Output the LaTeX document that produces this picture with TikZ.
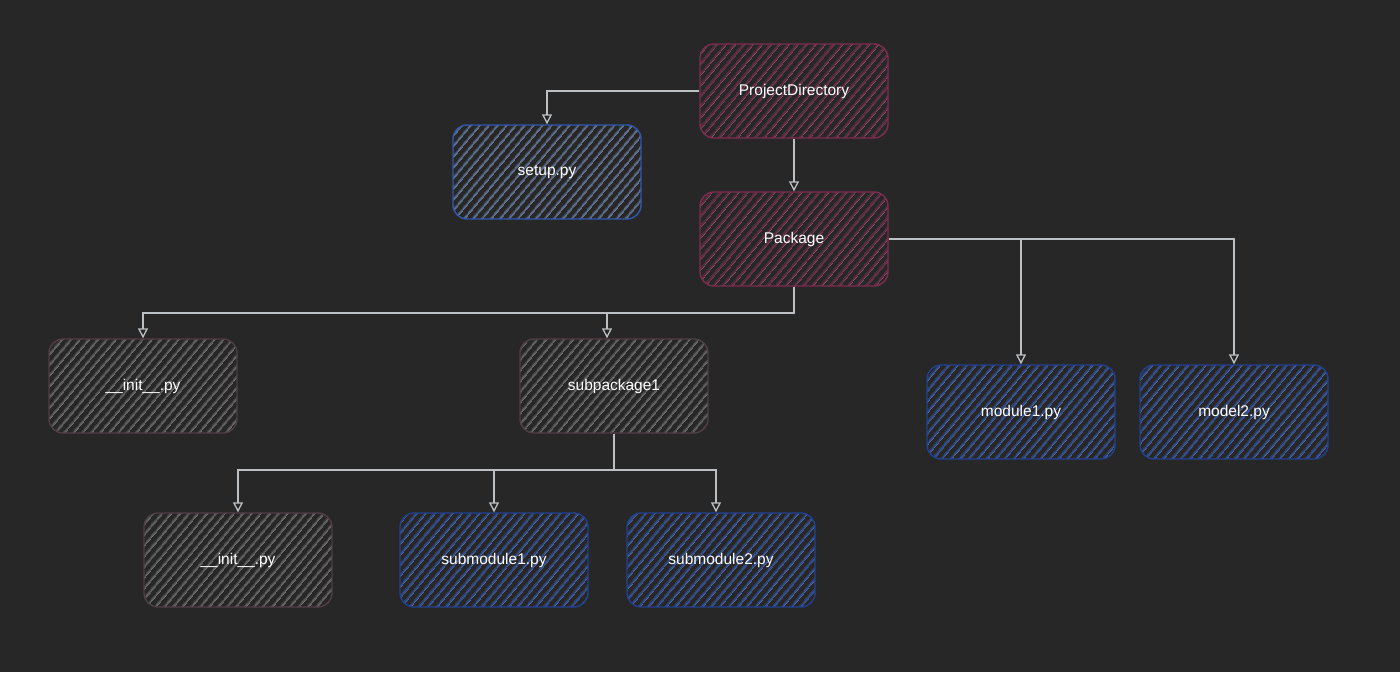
\documentclass[tikz,border=0pt]{standalone}
\usepackage{fontspec}
\setmainfont{Liberation Sans}
\usepackage{tikz}
\usetikzlibrary{arrows.meta,patterns.meta}
\definecolor{bgdark}{HTML}{272727}
\definecolor{linkgray}{HTML}{BCC0C3}
\definecolor{dirline}{HTML}{7E2C50}
\definecolor{dirhatch}{HTML}{72264A}
\definecolor{modline}{HTML}{21408E}
\definecolor{modhatch}{HTML}{2C4FA4}
\definecolor{setline}{HTML}{3058AC}
\definecolor{sethatch}{HTML}{5A6E94}
\definecolor{pkgline}{HTML}{4E3E46}
\definecolor{pkghatch}{HTML}{606060}

\begin{document}
\begin{tikzpicture}[x=1pt,y=-1pt,
    box/.style={rounded corners=14pt, line width=1.4pt,
      minimum width=188pt, minimum height=94pt, text=white,
      font=\fontsize{15.5}{18}\selectfont},
    dirbox/.style={box, draw=dirline, pattern color=dirhatch,
      pattern={Lines[angle=50,distance=6.5pt,line width=1.7pt]}},
    modbox/.style={box, draw=modline, pattern color=modhatch,
      pattern={Lines[angle=50,distance=6.5pt,line width=1.7pt]}},
    setbox/.style={box, draw=setline, pattern color=sethatch,
      pattern={Lines[angle=50,distance=6.5pt,line width=1.7pt]}},
    pkgbox/.style={box, draw=pkgline, pattern color=pkghatch,
      pattern={Lines[angle=50,distance=6.5pt,line width=1.7pt]}},
    link/.style={draw=linkgray, line width=1.3pt,
      -{Triangle[open,length=10pt,width=10pt]}}]
    \fill [bgdark] (0,0) rectangle (1400,672);
    \useasboundingbox (0,0) rectangle (1400,672);
    % top level
    \node [dirbox] (proj) at (794,91) {ProjectDirectory};
    \node [setbox] (setup) at (547,172) {setup.py};
    \node [dirbox] (pkg) at (794,239) {Package};
    % package contents
    \node [pkgbox] (init) at (143,386) {\_\_init\_\_.py};
    \node [pkgbox] (sub) at (614,386) {subpackage1};
    \node [modbox] (mod1) at (1021,412) {module1.py};
    \node [modbox] (mod2) at (1234,412) {model2.py};
    % subpackage contents
    \node [pkgbox] (subinit) at (238,560) {\_\_init\_\_.py};
    \node [modbox] (submod1) at (494,560) {submodule1.py};
    \node [modbox] (submod2) at (721,560) {submodule2.py};
    \coordinate (pkgfork) at (794,313);
    \coordinate (subfork) at (614,470);
    \draw [link] (proj.west) -| (setup.north);
    \draw [link] (proj) -- (pkg);
    \draw [link] (pkg.south) -- (pkgfork) -| (init.north);
    \draw [link] (pkgfork) -| ([xshift=-7pt]sub.north);
    \draw [link] (pkg.east) -| (mod1.north);
    \draw [link] (pkg.east) -| (mod2.north);
    \draw [link] (sub.south) -- (subfork) -| (subinit.north);
    \draw [link] (subfork) -| (submod1.north);
    \draw [link] (subfork) -| ([xshift=-5pt]submod2.north);
  \end{tikzpicture}
\end{document}
